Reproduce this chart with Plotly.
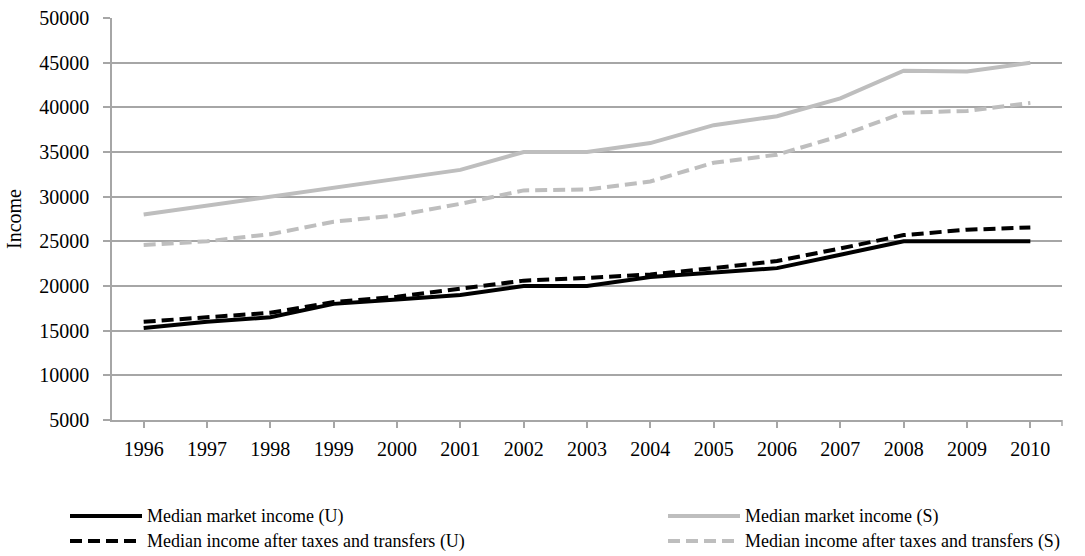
import plotly.graph_objects as go

years = [str(y) for y in range(1996, 2011)]
market_u = [15300, 16000, 16500, 18000, 18500, 19000, 20000, 20000, 21000, 21500, 22000, 23500, 25000, 25000, 25000]
market_s = [28000, 29000, 30000, 31000, 32000, 33000, 35000, 35000, 36000, 38000, 39000, 41000, 44100, 44000, 45000]
after_u = [16000, 16500, 17000, 18200, 18800, 19700, 20600, 20900, 21300, 22000, 22800, 24200, 25700, 26300, 26550]
after_s = [24600, 25000, 25800, 27200, 27900, 29200, 30700, 30800, 31700, 33800, 34700, 36800, 39400, 39600, 40500]

names = ["Median market income (U)", "Median market income (S)",
         "Median income after taxes and transfers (U)", "Median income after taxes and transfers (S)"]
series = [market_u, market_s, after_u, after_s]
BLACK = "#000000"
GRAY = "#bebebe"
colors = [BLACK, GRAY, BLACK, GRAY]
DASH = "12px,6px"
dashes = ["solid", "solid", DASH, DASH]
# draw order: gray first so black lies on top
order = [1, 3, 0, 2]

FONT = "Liberation Serif, Times New Roman, serif"

fig = go.Figure()
for i in order:
    fig.add_trace(go.Scatter(x=years, y=series[i], mode="lines", name=names[i],
                             line=dict(color=colors[i], width=4, dash=dashes[i]),
                             showlegend=False))

L, R, T, B = 112, 1062, 18, 420
W, H = 1085, 556
pw, ph = R - L, B - T

def px(x):
    return (x - L) / pw

def py(y):
    return (B - y) / ph

shapes = []
annotations = []
# right-end tick on category axis
shapes.append(dict(type="line", xref="paper", yref="paper", x0=1, x1=1, y0=0, y1=py(B + 6),
                   line=dict(color="#a6a6a6", width=1.5)))
# manual legend
legend_pos = [(70, 516), (668, 516), (70, 541), (668, 541)]
for i, (lx, ly) in enumerate(legend_pos):
    shapes.append(dict(type="line", xref="paper", yref="paper",
                       x0=px(lx), x1=px(lx + 72), y0=py(ly), y1=py(ly),
                       line=dict(color=colors[i], width=4, dash=dashes[i])))
    annotations.append(dict(xref="paper", yref="paper", x=px(lx + 75), y=py(ly),
                            xanchor="left", yanchor="middle", showarrow=False,
                            text=names[i], font=dict(family=FONT, size=18, color="#000000")))

fig.update_layout(
    width=W, height=H,
    margin=dict(l=L, r=W - R, t=T, b=H - B, autoexpand=False),
    paper_bgcolor="white", plot_bgcolor="white",
    font=dict(family=FONT, size=20, color="#000000"),
    shapes=shapes, annotations=annotations,
    showlegend=False,
)
fig.update_xaxes(type="category", range=[-0.5, 14.5], showgrid=False, automargin=False,
                 showline=True, linecolor="#a6a6a6", linewidth=1.5,
                 ticks="outside", ticklen=6, tickcolor="#a6a6a6", tickwidth=1.5,
                 tickfont=dict(family=FONT, size=20), ticklabelstandoff=4)
fig.update_yaxes(range=[5000, 50000], dtick=5000, tick0=5000, tickformat="d",
                 automargin=False,
                 showgrid=True, gridcolor="#a6a6a6", gridwidth=1.5,
                 showline=True, linecolor="#a6a6a6", linewidth=1.5,
                 ticks="outside", ticklen=7, tickcolor="#a6a6a6", tickwidth=1.5,
                 tickfont=dict(family=FONT, size=20), ticklabelstandoff=10,
                 zeroline=False,
                 title=dict(text="Income", font=dict(family=FONT, size=20), standoff=12))

fig.write_html("out.html", config={"displayModeBar": False},
               post_script="document.body.style.margin='0';document.body.style.overflow='hidden';")
